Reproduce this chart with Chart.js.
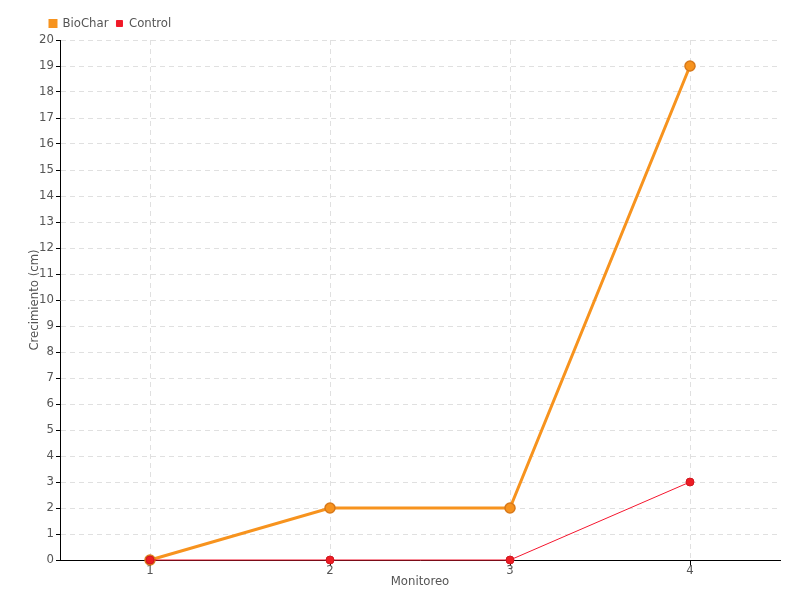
<!DOCTYPE html>
<html>
<head>
<meta charset="utf-8">
<script src="https://cdn.jsdelivr.net/npm/chart.js@4/dist/chart.umd.min.js"></script>
<style>
  html, body { margin: 0; padding: 0; background: #fff; }
  #wrap { width: 800px; height: 600px; }
</style>
</head>
<body>
<div id="wrap"><canvas id="growthChart" width="800" height="600"></canvas></div>
<script>
const monitoreo = ['1', '2', '3', '4'];
const bioChar = [0, 2, 2, 19];
const control = [0, 0, 0, 3];

Chart.defaults.font.family = '"DejaVu Sans Condensed", "Liberation Sans Narrow", sans-serif';
Chart.defaults.font.size = 13;
Chart.defaults.color = '#555';

const ctx = document.getElementById('growthChart').getContext('2d');

// move the legend over to line up with the chart area like the original
const shiftLegend = {
  id: 'shiftLegend',
  afterLayout(chart) {
    chart.legend.left += 42;
    chart.legend.right += 42;
  }
};

const growthChart = new Chart(ctx, {
  type: 'line',
  data: {
    labels: monitoreo,
    datasets: [{
      label: 'BioChar',
      data: bioChar,
      order: 1,
      clip: false,
      borderColor: '#f7931e',
      backgroundColor: '#f7931e',
      borderWidth: 3,
      pointRadius: 5,
      pointBorderWidth: 1.5,
      pointBorderColor: '#d8791a',
      pointBackgroundColor: '#f7931e',
      fill: false,
      tension: 0
    }, {
      label: 'Control',
      data: control,
      order: 0,
      clip: false,
      borderColor: '#f5162e',
      backgroundColor: '#ed1c24',
      borderWidth: 1,
      pointRadius: 4,
      pointBorderWidth: 1,
      pointBorderColor: '#d01820',
      pointBackgroundColor: '#ed1c24',
      fill: false,
      tension: 0
    }]
  },
  options: {
    responsive: false,
    animation: false,
    layout: { padding: { left: 0, right: 20, top: 9, bottom: 11 } },
    plugins: {
      legend: {
        position: 'top',
        align: 'start',
        labels: {
          boxWidth: 6,
          boxHeight: 6,
          padding: 8,
          color: '#555',
          sort: (a, b) => a.datasetIndex - b.datasetIndex
        }
      },
      tooltip: { enabled: false }
    },
    scales: {
      x: {
        offset: true,
        afterFit: (scale) => { scale.height = 29; },
        grid: {
          offset: false,
          color: '#e0e0e0',
          tickColor: '#000',
          tickLength: 6
        },
        border: { color: '#000', width: 1, dash: [5, 4] },
        ticks: { padding: -3, color: '#555' },
        title: { display: true, text: 'Monitoreo', color: '#555', padding: { top: 0, bottom: 0 } }
      },
      y: {
        min: 0,
        max: 20,
        afterFit: (scale) => { scale.width = 60; },
        grid: {
          color: '#e0e0e0',
          tickColor: '#000',
          tickLength: 4
        },
        border: { color: '#000', width: 1, dash: [5, 4] },
        ticks: { stepSize: 1, padding: 2, color: '#555' },
        title: { display: true, text: 'Crecimiento (cm)', color: '#555', padding: { top: 27, bottom: 0 } }
      }
    }
  },
  plugins: [shiftLegend]
});
</script>
</body>
</html>
